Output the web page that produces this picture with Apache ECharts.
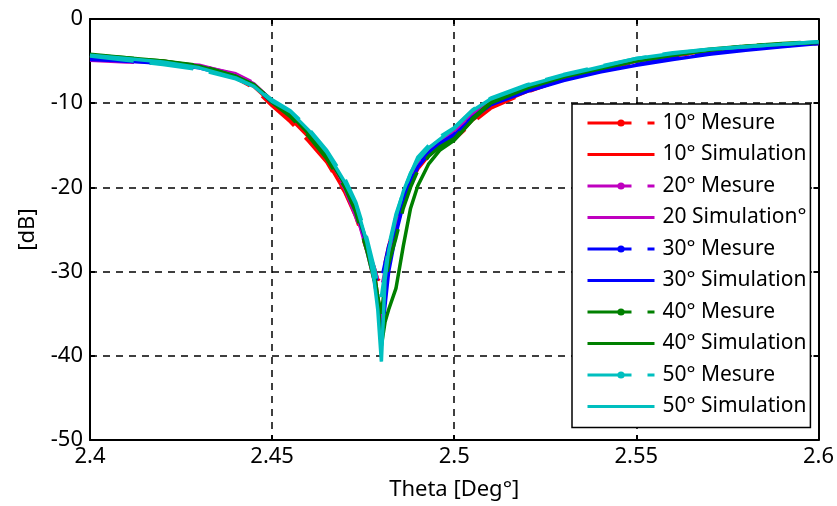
<!DOCTYPE html>
<html>
<head>
<meta charset="utf-8">
<script src="https://cdn.jsdelivr.net/npm/echarts@6/dist/echarts.min.js"></script>
<style>html,body{margin:0;padding:0;background:#fff;}#c{width:837px;height:506px;}</style>
</head>
<body>
<div id="c"></div>
<script>
const freq = [2.400, 2.410, 2.420, 2.430, 2.440, 2.445, 2.450, 2.455, 2.460, 2.465, 2.470, 2.473, 2.476, 2.478, 2.479, 2.480, 2.481, 2.482, 2.484, 2.486, 2.488, 2.490, 2.493, 2.496, 2.500, 2.505, 2.510, 2.520, 2.530, 2.540, 2.550, 2.560, 2.570, 2.580, 2.590, 2.600];

const mes10 = [-4.6,-4.9,-5.0,-5.7,-7.0,-8.2,-10.3,-12.2,-14.5,-17.0,-20.6,-23.5,-27.5,-29.5,-31,-30.5,-29,-27,-24,-21.5,-19.2,-17.5,-16.0,-15.0,-14.3,-12.3,-10.6,-8.7,-7.1,-6.0,-5.1,-4.4,-3.8,-3.5,-3.1,-2.9];
const sim10 = [-4.5,-4.8,-5.1,-5.6,-6.9,-8.0,-10.0,-11.8,-14.0,-16.8,-20.5,-23,-27,-30,-33,-36,-32,-29,-25,-22,-19.5,-17.8,-16.2,-15.2,-14.2,-12.0,-10.4,-8.6,-7.2,-6.0,-5.0,-4.3,-3.8,-3.4,-3.1,-2.9];
const mes20 = [-4.9,-5.1,-5.3,-5.6,-6.5,-7.6,-9.8,-11.5,-13.6,-16.3,-20.2,-23.5,-27,-29.5,-31,-32,-30,-27.5,-23.5,-20.8,-18.5,-16.9,-15.4,-14.4,-13.3,-11.2,-9.8,-8.2,-6.9,-5.9,-5.0,-4.3,-3.7,-3.3,-3.1,-2.8];
const sim20 = [-4.8,-5.0,-5.2,-5.5,-6.6,-7.7,-9.7,-11.3,-13.4,-16.0,-19.8,-22.8,-27.5,-31,-33.5,-37,-32,-28,-24,-21,-18.8,-17.0,-15.5,-14.5,-13.4,-11.3,-9.8,-8.1,-6.8,-5.8,-4.9,-4.2,-3.7,-3.3,-3.0,-2.8];
const mes30 = [-4.8,-5.0,-5.3,-5.9,-7.0,-8.0,-9.9,-11.4,-13.5,-16.1,-19.8,-22.8,-27,-30,-31.5,-31,-29,-27,-24.5,-21.5,-19.2,-17.4,-15.9,-14.8,-13.7,-11.7,-10.1,-8.5,-7.2,-6.2,-5.4,-4.7,-4.1,-3.6,-3.2,-2.9];
const sim30 = [-4.7,-5.0,-5.3,-5.8,-6.9,-7.9,-9.8,-11.3,-13.4,-16.0,-19.6,-22.4,-26.8,-30.5,-33.5,-38,-34,-30,-25.5,-22,-19.5,-17.6,-16.0,-14.9,-13.8,-11.8,-10.2,-8.6,-7.3,-6.3,-5.5,-4.8,-4.2,-3.7,-3.3,-2.9];
const mes40 = [-4.3,-4.6,-5.0,-5.5,-6.8,-7.9,-9.9,-11.6,-13.9,-16.6,-20.0,-23.0,-27.5,-31,-33,-35,-31.5,-29,-26,-22.5,-20.0,-18.0,-16.3,-15.2,-14.2,-11.8,-9.9,-8.1,-6.8,-5.8,-4.9,-4.2,-3.6,-3.2,-2.9,-2.7];
const sim40 = [-4.2,-4.6,-5.0,-5.6,-6.8,-7.8,-9.7,-11.3,-13.6,-16.2,-19.6,-22.5,-26.5,-30,-33,-38.8,-36,-34.5,-32,-27,-22.5,-19.8,-17.2,-15.6,-14.4,-12.0,-10.0,-8.2,-6.9,-5.9,-5.0,-4.3,-3.7,-3.2,-3.0,-2.8];
const mes50 = [-4.4,-4.9,-5.4,-6.0,-7.1,-8.0,-9.6,-10.9,-13.0,-15.6,-19.0,-21.8,-26,-29.5,-31.5,-33,-30,-27,-23.2,-20.6,-18.4,-16.4,-15.0,-14.0,-12.9,-10.8,-9.4,-7.8,-6.6,-5.6,-4.7,-4.0,-3.6,-3.3,-3.0,-2.7];
const sim50 = [-4.3,-4.7,-5.1,-5.8,-7.0,-8.0,-9.8,-11.0,-13.2,-15.8,-19.4,-22.0,-26.5,-31,-34.5,-40.7,-31,-27.5,-23.5,-20.5,-18.3,-16.8,-15.3,-14.3,-13.0,-10.9,-9.5,-7.9,-6.7,-5.7,-4.7,-4.1,-3.6,-3.3,-3.0,-2.7];

const seriesNames = ['10° Mesure','10° Simulation','20° Mesure','20 Simulation°','30° Mesure','30° Simulation','40° Mesure','40° Simulation','50° Mesure','50° Simulation'];
const seriesValues = [mes10, sim10, mes20, sim20, mes30, sim30, mes40, sim40, mes50, sim50];
const colors = ['#FF0000','#FF0000','#BF00BF','#BF00BF','#0000FF','#0000FF','#008000','#008000','#00BFBF','#00BFBF'];
const xTickLabels = ['2.4','2.45','2.5','2.55','2.6'];
const yTickLabels = ['-50','-40','-30','-20','-10','0'];

const FONT = 'Noto Sans';
const series = seriesValues.map((vals, i) => {
  const isMes = i % 2 === 0;
  return {
    name: seriesNames[i],
    type: 'line',
    data: freq.map((f, k) => [f, vals[k]]),
    symbol: 'circle',
    symbolSize: 7,
    showSymbol: false,
    animation: false,
    color: colors[i],
    lineStyle: { color: colors[i], width: 3.5, type: isMes ? [44, 16] : 'solid' },
    itemStyle: { color: colors[i] },
    emphasis: { disabled: true }
  };
});

const legendData = seriesNames.map((n, i) => (i % 2 === 0) ? { name: n } : { name: n, itemStyle: { opacity: 0 } });

const chart = echarts.init(document.getElementById('c'), null, { renderer: 'canvas' });
chart.setOption({
  backgroundColor: '#fff',
  animation: false,
  textStyle: { fontFamily: FONT },
  grid: { left: 90, right: 15, top: 19, bottom: 64, containLabel: false },
  legend: {
    orient: 'vertical',
    left: 572, top: 104,
    padding: [8.5, 4, 10.5, 14],
    itemWidth: 67, itemHeight: 9, itemGap: 10.5,
    backgroundColor: '#fff',
    borderColor: '#000', borderWidth: 1.5,
    lineStyle: { width: 3 },
    textStyle: { fontFamily: FONT, fontSize: 21, lineHeight: 21, color: '#000', padding: [0, 0, 0, 3] },
    data: legendData,
    selectedMode: false
  },
  xAxis: [{
    type: 'value', min: 2.4, max: 2.6, interval: 0.05,
    axisLine: { onZero: false, lineStyle: { color: '#000', width: 2 } },
    axisTick: { inside: true, length: 5, lineStyle: { color: '#000', width: 2 } },
    axisLabel: { fontFamily: FONT, fontSize: 22, color: '#000', margin: 6,
      formatter: v => xTickLabels[Math.round((v - 2.4) / 0.05)] },
    splitLine: { show: true, lineStyle: { color: '#000', width: 1.5, type: [7, 6] } },
    name: 'Theta [Deg°]', nameLocation: 'middle', nameGap: 39,
    nameTextStyle: { fontFamily: FONT, fontSize: 22, color: '#000' }
  }, {
    type: 'value', position: 'top', min: 2.4, max: 2.6, interval: 0.05,
    axisLine: { show: true, lineStyle: { color: '#000', width: 2 } },
    axisTick: { show: true, inside: true, length: 5, lineStyle: { color: '#000', width: 2 } },
    axisLabel: { show: false }, splitLine: { show: false }
  }],
  yAxis: [{
    type: 'value', min: -50, max: 0, interval: 10,
    axisLine: { show: true, onZero: false, lineStyle: { color: '#000', width: 2 } },
    axisTick: { show: true, inside: true, length: 5, lineStyle: { color: '#000', width: 2 } },
    axisLabel: { fontFamily: FONT, fontSize: 22, color: '#000', margin: 7,
      formatter: v => yTickLabels[Math.round((v + 50) / 10)] },
    splitLine: { show: true, lineStyle: { color: '#000', width: 1.5, type: [7, 6] } },
    name: '[dB]', nameLocation: 'middle', nameGap: 51,
    nameTextStyle: { fontFamily: FONT, fontSize: 22, color: '#000' }
  }, {
    type: 'value', position: 'right', min: -50, max: 0, interval: 10,
    axisLine: { show: true, lineStyle: { color: '#000', width: 2 } },
    axisTick: { show: true, inside: true, length: 5, lineStyle: { color: '#000', width: 2 } },
    axisLabel: { show: false }, splitLine: { show: false }
  }],
  series: series
});
</script>
</body>
</html>
